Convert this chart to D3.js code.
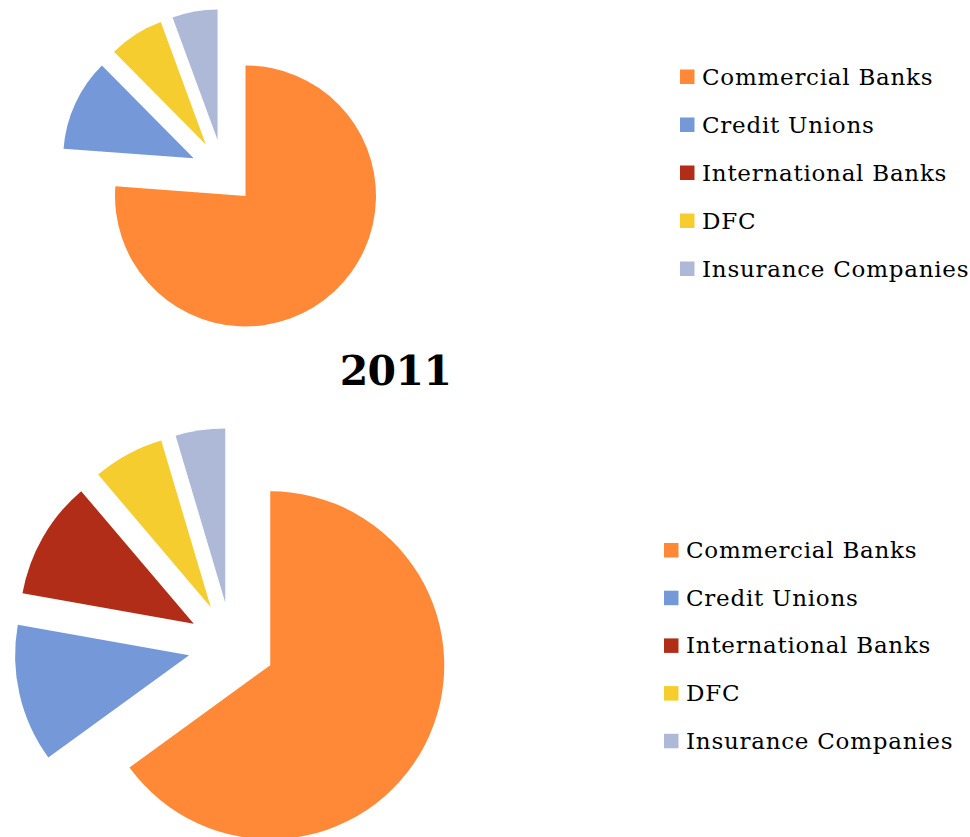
<!DOCTYPE html>
<html>
<head>
<meta charset="utf-8">
<script src="https://cdn.jsdelivr.net/npm/d3@7"></script>
<style>
  html, body { margin: 0; padding: 0; background: #fff; }
  svg { display: block; }
  text { font-family: "DejaVu Serif", "Liberation Serif", serif; fill: #000; }
</style>
</head>
<body>
<svg id="chart" width="970" height="837"></svg>
<script>
// Market share by institution type (percent of total)
const categories = ["Commercial Banks", "Credit Unions", "International Banks", "DFC", "Insurance Companies"];
const colors = ["#FF8937", "#7598D8", "#B12D17", "#F5CD2F", "#ADB9D6"];
const sharePrior = [76.1, 11.4, 0, 6.8, 5.6];
const share2011 = [65.0, 12.8, 11.0, 6.6, 4.6];
const titles = ["", "2011"];

const svg = d3.select("#chart");
const color = d3.scaleOrdinal().domain(categories).range(colors);

// one exploded pie plus its legend
function drawPie(values, opts) {
  const data = categories.map((c, i) => ({ name: c, value: values[i] }));
  const pie = d3.pie().sort(null).value(d => d.value).startAngle(0).endAngle(2 * Math.PI);
  const arc = d3.arc().innerRadius(0).outerRadius(opts.r);
  const explode = opts.r * 0.25;

  const g = svg.append("g").attr("transform", `translate(${opts.cx},${opts.cy})`);
  g.selectAll("path")
    .data(pie(data).filter(d => d.value > 0))
    .join("path")
    .attr("d", arc)
    .attr("fill", d => color(d.data.name))
    .attr("transform", d => {
      const mid = (d.startAngle + d.endAngle) / 2;
      return `translate(${Math.sin(mid) * explode},${-Math.cos(mid) * explode})`;
    });

  const lg = svg.append("g").attr("transform", `translate(${opts.lx},${opts.ly})`);
  const item = lg.selectAll("g")
    .data(categories)
    .join("g")
    .attr("transform", (d, i) => `translate(0,${i * opts.step})`);
  item.append("rect")
    .attr("x", 0).attr("y", -15)
    .attr("width", 14.5).attr("height", 14.5)
    .attr("fill", d => color(d));
  item.append("text")
    .attr("x", 22).attr("y", 0)
    .attr("font-size", opts.fs)
    .attr("letter-spacing", 0.74)
    .text(d => d);

  if (opts.title) {
    svg.append("text")
      .attr("x", opts.tx).attr("y", opts.ty)
      .attr("text-anchor", "middle")
      .attr("font-size", 41)
      .attr("font-weight", "bold")
      .attr("letter-spacing", -0.6)
      .text(opts.title);
  }
}

drawPie(sharePrior, { cx: 223.3, cy: 172, r: 130.5, lx: 680, ly: 84.5, step: 48, fs: 23, title: titles[0] });
drawPie(share2011, { cx: 231.5, cy: 645.5, r: 174, lx: 664, ly: 558, step: 47.7, fs: 23, title: titles[1], tx: 395.5, ty: 384.5 });
</script>
</body>
</html>
